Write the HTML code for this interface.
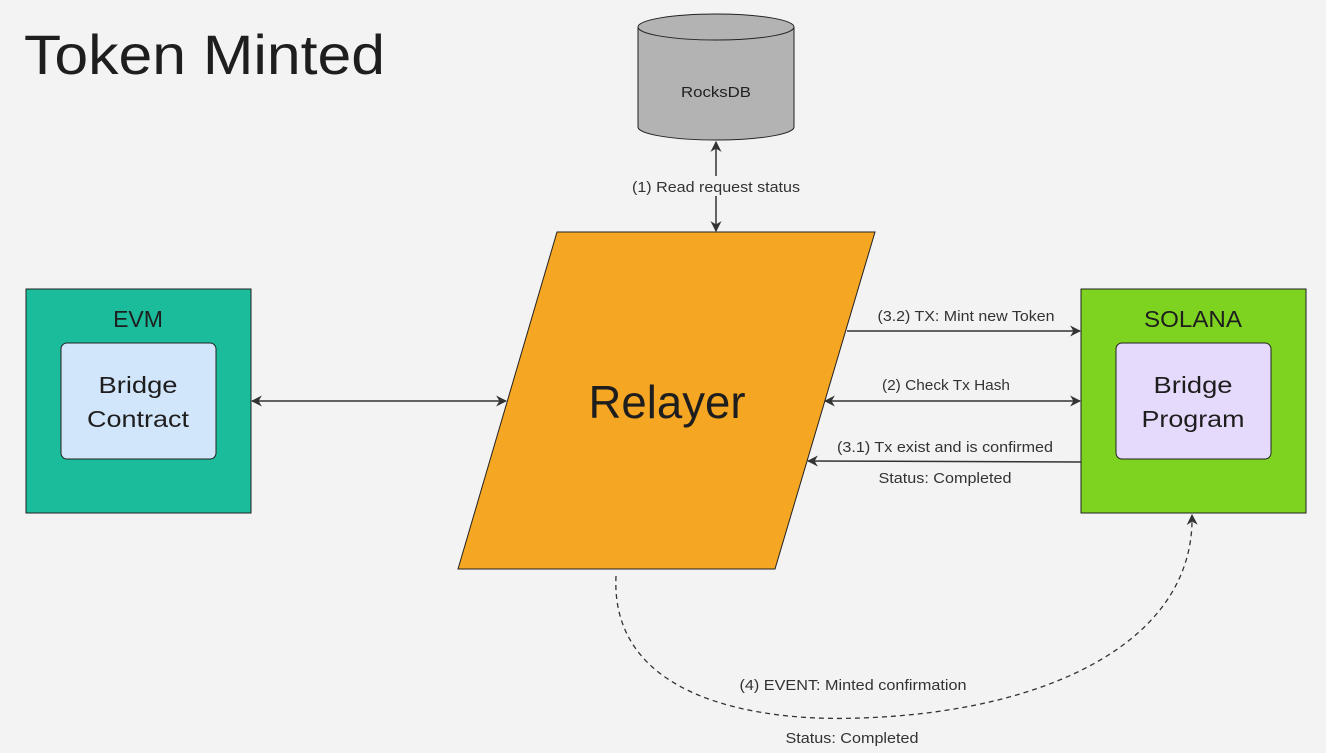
<!DOCTYPE html>
<html><head><meta charset="utf-8"><style>
html,body{margin:0;padding:0;background:#f3f3f3;}
svg{display:block;font-family:"Liberation Sans","Noto Sans CJK SC",sans-serif;}
</style></head><body>
<svg width="1326" height="753" viewBox="0 0 1326 753" xmlns="http://www.w3.org/2000/svg">
<defs>
<marker id="a" viewBox="0 0 10 10" refX="9" refY="5" markerWidth="11" markerHeight="11" orient="auto-start-reverse" markerUnits="userSpaceOnUse"><path d="M0,0 L10,5 L0,10 L3,5 z" fill="#333"/></marker>
</defs>
<rect width="1326" height="753" fill="#f3f3f3"/>
<text x="24" y="74" font-size="56" fill="#1e1e1e" textLength="361" lengthAdjust="spacingAndGlyphs">Token Minted</text>
<!-- cylinder -->
<path d="M638,27 L638,127 A78,13 0 0 0 794,127 L794,27" fill="#b3b3b3" stroke="#222" stroke-width="1"/>
<ellipse cx="716" cy="27" rx="78" ry="13" fill="#b3b3b3" stroke="#222" stroke-width="1"/>
<text x="716" y="97" font-size="15" text-anchor="middle" fill="#222" textLength="70" lengthAdjust="spacingAndGlyphs">RocksDB</text>
<line x1="716" y1="142" x2="716" y2="231" stroke="#333" stroke-width="1.5" marker-start="url(#a)" marker-end="url(#a)"/>
<rect x="628" y="176" width="176" height="20" fill="#f3f3f3"/>
<text x="716" y="192" font-size="14.5" text-anchor="middle" fill="#333" textLength="168" lengthAdjust="spacingAndGlyphs">(1) Read request status</text>
<!-- relayer -->
<polygon points="557,232 875,232 775,569 458,569" fill="#f5a623" stroke="#222" stroke-width="1"/>
<text x="667" y="418" font-size="46" text-anchor="middle" fill="#1e1e1e" textLength="157" lengthAdjust="spacingAndGlyphs">Relayer</text>
<!-- EVM -->
<rect x="26" y="289" width="225" height="224" fill="#1bbc9b" stroke="#222" stroke-width="1"/>
<text x="138" y="327" font-size="23" text-anchor="middle" fill="#1e1e1e">EVM</text>
<rect x="61" y="343" width="155" height="116" rx="6" fill="#d2e6fb" stroke="#222" stroke-width="1"/>
<text x="138" y="393" font-size="23" text-anchor="middle" fill="#1e1e1e" textLength="79" lengthAdjust="spacingAndGlyphs">Bridge</text>
<text x="138" y="427" font-size="23" text-anchor="middle" fill="#1e1e1e" textLength="102" lengthAdjust="spacingAndGlyphs">Contract</text>
<!-- SOLANA -->
<rect x="1081" y="289" width="225" height="224" fill="#7ed321" stroke="#222" stroke-width="1"/>
<text x="1193" y="327" font-size="23" text-anchor="middle" fill="#1e1e1e" textLength="98" lengthAdjust="spacingAndGlyphs">SOLANA</text>
<rect x="1116" y="343" width="155" height="116" rx="6" fill="#e5dafb" stroke="#222" stroke-width="1"/>
<text x="1193" y="393" font-size="23" text-anchor="middle" fill="#1e1e1e" textLength="79" lengthAdjust="spacingAndGlyphs">Bridge</text>
<text x="1193" y="427" font-size="23" text-anchor="middle" fill="#1e1e1e" textLength="103" lengthAdjust="spacingAndGlyphs">Program</text>
<!-- arrows -->
<line x1="252" y1="401" x2="506" y2="401" stroke="#333" stroke-width="1.5" marker-start="url(#a)" marker-end="url(#a)"/>
<line x1="847" y1="331" x2="1080" y2="331" stroke="#333" stroke-width="1.5" marker-end="url(#a)"/>
<text x="966" y="321" font-size="14.5" text-anchor="middle" fill="#333" textLength="177" lengthAdjust="spacingAndGlyphs">(3.2) TX: Mint new Token</text>
<line x1="825" y1="401" x2="1080" y2="401" stroke="#333" stroke-width="1.5" marker-start="url(#a)" marker-end="url(#a)"/>
<text x="946" y="390" font-size="14.5" text-anchor="middle" fill="#333" textLength="128" lengthAdjust="spacingAndGlyphs">(2) Check Tx Hash</text>
<line x1="1081" y1="462" x2="808" y2="461" stroke="#333" stroke-width="1.5" marker-end="url(#a)"/>
<text x="945" y="452" font-size="14.5" text-anchor="middle" fill="#333" textLength="216" lengthAdjust="spacingAndGlyphs">(3.1) Tx exist and is confirmed</text>
<text x="945" y="483" font-size="14.5" text-anchor="middle" fill="#333" textLength="133" lengthAdjust="spacingAndGlyphs">Status: Completed</text>
<!-- dashed curve -->
<path d="M616,576 C610,700 760,722 860,718 C1050,712 1195,640 1192,515" fill="none" stroke="#333" stroke-width="1.3" stroke-dasharray="5,4" marker-end="url(#a)"/>
<text x="853" y="690" font-size="14.5" text-anchor="middle" fill="#333" textLength="227" lengthAdjust="spacingAndGlyphs">(4) EVENT: Minted confirmation</text>
<text x="852" y="743" font-size="14.5" text-anchor="middle" fill="#333" textLength="133" lengthAdjust="spacingAndGlyphs">Status: Completed</text>
</svg>
</body></html>
